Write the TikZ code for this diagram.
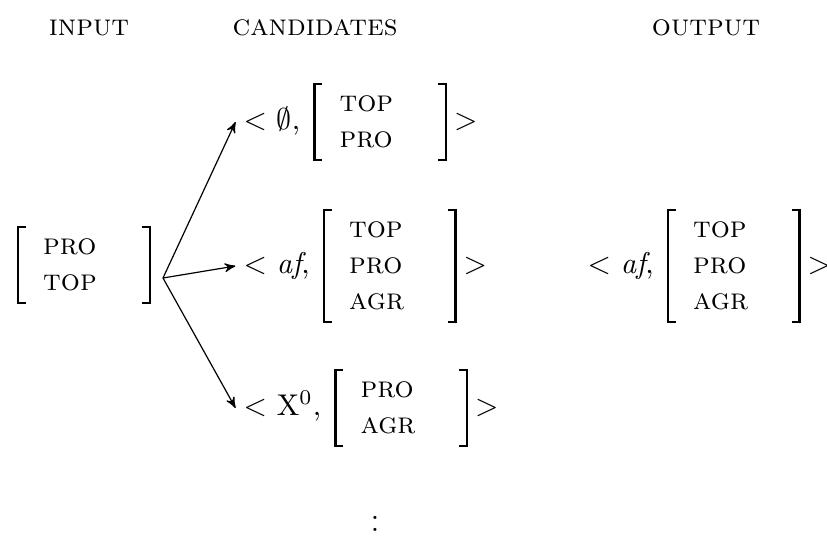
\documentclass[tikz,border=0pt]{standalone}
\usepackage{amsmath, amssymb}
\usetikzlibrary{positioning, arrows}
\tikzset{
>=stealth', % small filled arrow heads
fs/.style={inner sep=0pt, outer sep=0pt}, % the feature matrix itself
cand/.style={inner sep=0pt, text height=8pt, text depth=3pt}, % < label, and >
bracket/.style={line width=0.8pt}, % the square brackets round a matrix
}
% one feature matrix, rows separated by \\
\newcommand{\fstr}[1]{\begin{tabular}{@{\hspace{8.4pt}}p{35.5pt}@{}}#1\end{tabular}}
% square brackets round a named matrix node
\newcommand{\fsbrackets}[1]{%
  \draw[bracket] ([xshift=2.7pt,yshift=0.6pt]#1.north west) -- ([yshift=0.6pt]#1.north west)
     -- ([yshift=-0.6pt]#1.south west) -- ++(2.7pt,0);
  \draw[bracket] ([xshift=-2.7pt,yshift=0.6pt]#1.north east) -- ([yshift=0.6pt]#1.north east)
     -- ([yshift=-0.6pt]#1.south east) -- ++(-2.7pt,0);}

\begin{document}
\begin{tikzpicture}[x=0.3333pt, y=-0.3333pt]
\useasboundingbox (0,0) rectangle (827,536);

% column heads
\node (hin) at (89,28) {\textsc{input}};
\node (hcand) at (315,28) {\textsc{candidates}};
\node (hout) at (706,28) {\textsc{output}};

% input
\node[fs, anchor=west] (in) at (18,265) {\fstr{\textsc{pro}\\ \textsc{top}}};
\fsbrackets{in}
\coordinate (fork) at (163,278);

% candidates
\node[cand, anchor=west] (c1) at (243,122) {$<$\ $\emptyset$,};
\node[fs, right=4.5pt of c1] (m1) {\fstr{\textsc{top}\\ \textsc{pro}}};
\fsbrackets{m1}
\node[cand, right=2.5pt of m1] (e1) {$>$};

\node[cand, anchor=west] (c2) at (243,266) {$<$\ \textit{af},};
\node[fs, right=4.5pt of c2] (m2) {\fstr{\textsc{top}\\ \textsc{pro}\\ \textsc{agr}}};
\fsbrackets{m2}
\node[cand, right=2.5pt of m2] (e2) {$>$};

\node[cand, anchor=west] (c3) at (243,408) {$<$\ X$^0$,};
\node[fs, right=4.5pt of c3] (m3) {\fstr{\textsc{pro}\\ \textsc{agr}}};
\fsbrackets{m3}
\node[cand, right=2.5pt of m3] (e3) {$>$};

\node (more) at (375,521) {$\vdots$};

% output
\node[cand, anchor=west] (o1) at (587,266) {$<$\ \textit{af},};
\node[fs, right=4.5pt of o1] (mo) {\fstr{\textsc{top}\\ \textsc{pro}\\ \textsc{agr}}};
\fsbrackets{mo}
\node[cand, right=2.5pt of mo] (eo) {$>$};

% arrows from the input to each candidate
\draw[->] (fork) -- ([xshift=-2.5pt]c1.west);
\draw[->] (fork) -- ([xshift=-2.5pt]c2.west);
\draw[->] (fork) -- ([xshift=-2.5pt]c3.west);
\end{tikzpicture}
\end{document}
